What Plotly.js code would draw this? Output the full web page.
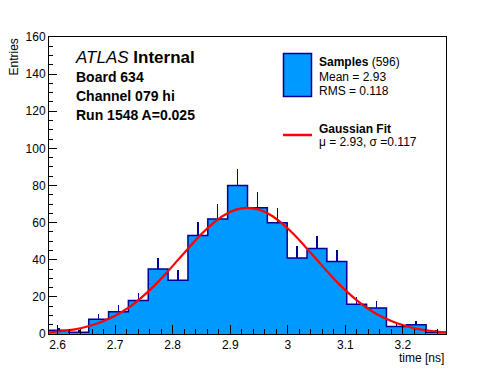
<!DOCTYPE html>
<html>
<head>
<meta charset="utf-8">
<script src="https://cdn.plot.ly/plotly-3.0.1.min.js"></script>
<style>html,body{margin:0;padding:0;background:#fff;}#chart{width:496px;height:372px;}</style>
</head>
<body>
<div id="chart"></div>
<script>
// Histogram binning (20 bins)
const binLow = 2.585;
const binWidth = 0.0345;
// Entries per bin
const counts = [2, 1, 8, 12, 18, 35, 29, 53, 62, 80, 68, 60, 41, 46, 39, 16, 14, 4, 5, 1];
// Gaussian fit curve
const fitX = [2.585, 2.61, 2.63, 2.65, 2.67, 2.69, 2.71, 2.73, 2.75, 2.77, 2.79, 2.81, 2.83, 2.85, 2.87, 2.89, 2.91, 2.93, 2.95, 2.97, 2.99, 3.01, 3.03, 3.05, 3.07, 3.09, 3.11, 3.13, 3.15, 3.17, 3.19, 3.21, 3.23, 3.25, 3.275];
const fitY = [0.9, 1.6, 2.5, 3.9, 5.8, 8.3, 11.6, 15.7, 20.8, 26.6, 33.2, 40.2, 47.2, 53.9, 59.6, 64.1, 67.0, 68.0, 67.0, 64.1, 59.6, 53.9, 47.2, 40.2, 33.2, 26.6, 20.8, 15.7, 11.6, 8.3, 5.8, 3.9, 2.5, 1.6, 0.9];
const xTickVals = [2.6, 2.7, 2.8, 2.9, 3.0, 3.1, 3.2];
const xTickText = ['2.6', '2.7', '2.8', '2.9', '3', '3.1', '3.2'];
const yTickVals = [0, 20, 40, 60, 80, 100, 120, 140, 160];

const centers = counts.map((c, i) => binLow + binWidth * (i + 0.5));
const edges = counts.map((c, i) => binLow + binWidth * i).concat([binLow + binWidth * counts.length]);
const stepY = counts.concat([counts[counts.length - 1]]);
const errUp = counts.map(c => Math.sqrt(c));
const errDown = counts.map(() => 0);

const navy = '#000099';
const fillBlue = '#0099ff';
const FONT = '"Liberation Sans", Arial, Helvetica, sans-serif';

const traces = [
  {
    type: 'bar', x: centers, y: counts, width: binWidth,
    marker: {color: fillBlue, line: {width: 0}},
    error_y: {type: 'data', symmetric: false, array: errUp, arrayminus: errDown, width: 0, color: navy, thickness: 1.5},
    showlegend: false, hoverinfo: 'skip'
  },
  {
    type: 'scatter', mode: 'lines', x: edges, y: stepY,
    line: {shape: 'hv', color: navy, width: 1.5},
    showlegend: false, hoverinfo: 'skip'
  },
  {
    type: 'scatter', mode: 'lines', x: fitX, y: fitY,
    line: {shape: 'spline', color: '#ff0000', width: 2.2},
    showlegend: false, hoverinfo: 'skip'
  }
];

const W = 397, H = 297, L = 49, T = 37;
const px = x => (x - L) / W;
const py = y => (T + H - y) / H;

const ann = (text, x, y, size, opts) => Object.assign({
  text: text, x: px(x), y: py(y), xref: 'paper', yref: 'paper',
  xanchor: 'left', yanchor: 'middle', showarrow: false,
  font: {family: FONT, size: size, color: '#000'}
}, opts || {});

const layout = {
  width: 496, height: 372,
  margin: {l: L, r: 496 - L - W, t: T, b: 372 - T - H, pad: 0},
  paper_bgcolor: '#fff', plot_bgcolor: '#fff',
  font: {family: FONT, size: 12, color: '#000'},
  bargap: 0,
  showlegend: false,
  xaxis: {
    range: [2.585, 3.275], tickvals: xTickVals, ticktext: xTickText,
    ticks: 'inside', ticklen: 9, tickwidth: 1, tickcolor: '#000',
    minor: {dtick: 0.02, ticks: 'inside', ticklen: 5, tickwidth: 1, tickcolor: '#000', showgrid: false},
    showline: true, linecolor: '#000', linewidth: 1, mirror: true,
    showgrid: false, zeroline: false, tickfont: {family: FONT, size: 12}
  },
  yaxis: {
    range: [0, 160], tickvals: yTickVals,
    ticks: 'inside', ticklen: 8, tickwidth: 1, tickcolor: '#000',
    minor: {dtick: 5, ticks: 'inside', ticklen: 4, tickwidth: 1, tickcolor: '#000', showgrid: false},
    showline: true, linecolor: '#000', linewidth: 1, mirror: true,
    showgrid: false, zeroline: false, tickfont: {family: FONT, size: 12}
  },
  shapes: [
    {type: 'rect', xref: 'paper', yref: 'paper', x0: px(283.5), x1: px(311.5), y0: py(96.5), y1: py(53.5),
     fillcolor: fillBlue, line: {color: navy, width: 1.5}},
    {type: 'line', xref: 'paper', yref: 'paper', x0: px(283), x1: px(312), y0: py(135), y1: py(135),
     line: {color: '#ff0000', width: 2.5}}
  ],
  annotations: [
    ann('<i>ATLAS</i> <b>Internal</b>', 73, 57, 17),
    ann('<b>Board 634</b>', 74, 76.5, 14),
    ann('<b>Channel 079 hi</b>', 74, 96, 14),
    ann('<b>Run 1548 A=0.025</b>', 74, 115, 14),
    ann('<b>Samples</b> (596)', 317, 61.5, 12),
    ann('Mean = 2.93', 317, 76.5, 12),
    ann('RMS = 0.118', 317, 90.5, 12),
    ann('<b>Gaussian Fit</b>', 317, 129, 12),
    ann('\u03bc = 2.93, \u03c3 =0.117', 317, 142, 12),
    ann('time [ns]', 446, 357.5, 12, {xanchor: 'right'}),
    ann('Entries', 13, 37, 12, {xanchor: 'center', yanchor: 'top', textangle: -90})
  ]
};

Plotly.newPlot('chart', traces, layout, {staticPlot: true, displayModeBar: false});
</script>
</body>
</html>
